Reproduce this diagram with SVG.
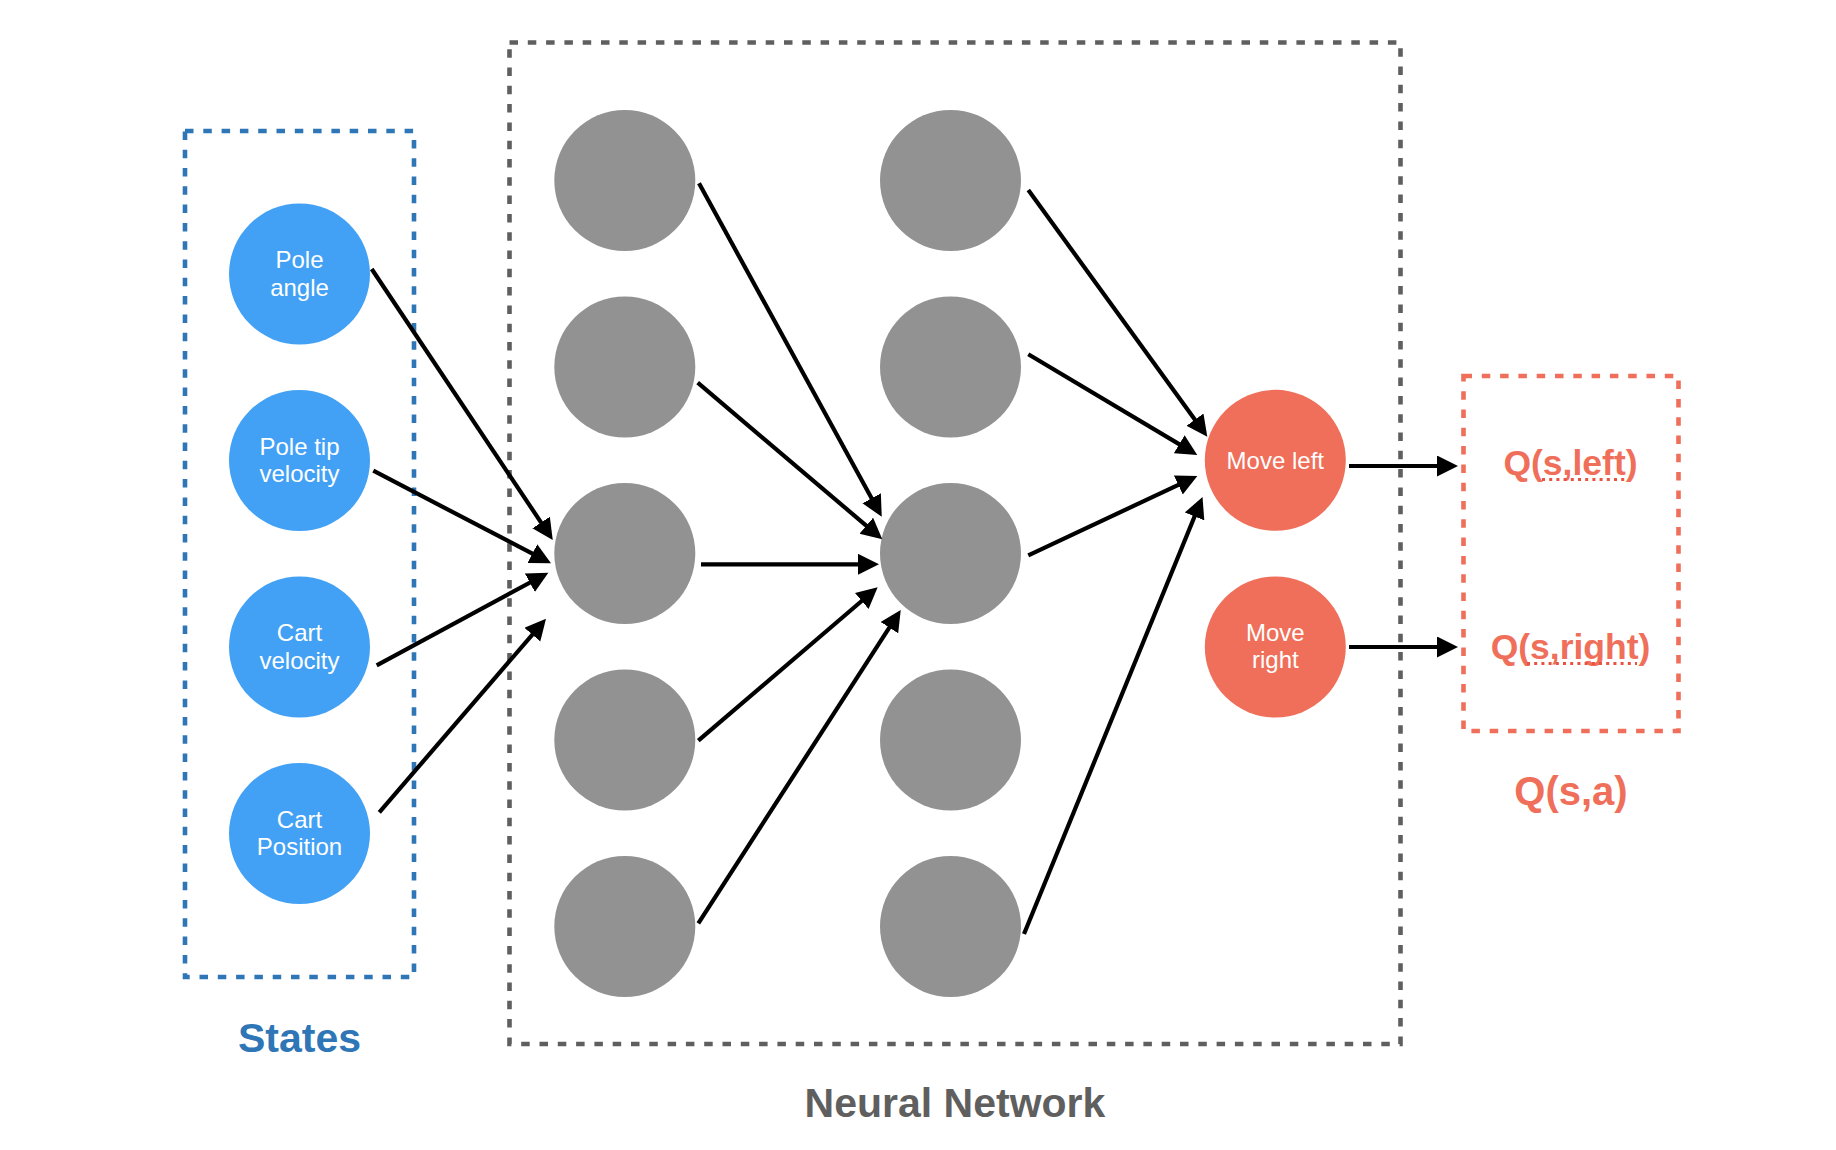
<svg xmlns="http://www.w3.org/2000/svg" width="1836" height="1150" viewBox="0 0 1836 1150">
  <style>
    .frame { fill: none; stroke-width: 4.6; stroke-dasharray: 8.5 9.8; }
    .state { fill: #42a1f5; }
    .hidden { fill: #929292; }
    .action { fill: #ef6f5a; }
    .lbl { font-family: "Liberation Sans", Arial, sans-serif; font-size: 24px; fill: #ffffff; text-anchor: middle; }
    .title { font-family: "Liberation Sans", Arial, sans-serif; font-weight: bold; text-anchor: middle; }
    .link { stroke: #000000; stroke-width: 4.2; fill: none; marker-end: url(#head); }
    .spell { stroke: #e8533f; stroke-width: 3; stroke-dasharray: 3 4.2; fill: none; }
  </style>
  <defs>
    <marker id="head" markerUnits="userSpaceOnUse" markerWidth="22" markerHeight="22" viewBox="0 0 22 22" refX="13" refY="10.5" orient="auto">
      <path d="M0,0 L21,10.5 L0,21 Z" fill="#000000"/>
    </marker>
  </defs>
  <rect width="1836" height="1150" fill="#ffffff"/>

  <!-- group frames -->
  <rect id="states-frame" class="frame" x="185" y="131" width="229" height="846" stroke="#2f76b7"/>
  <rect id="network-frame" class="frame" x="509.5" y="42.5" width="891" height="1001.5" stroke="#5f5f5f"/>
  <rect id="q-frame" class="frame" x="1463.5" y="376" width="215" height="355" stroke="#ef6f5a"/>

  <!-- input states -->
  <g id="pole-angle">
    <circle class="state" cx="299.5" cy="274" r="70.5"/>
    <text class="lbl" x="299.5" y="268.3">Pole</text>
    <text class="lbl" x="299.5" y="295.7">angle</text>
  </g>
  <g id="pole-tip-velocity">
    <circle class="state" cx="299.5" cy="460.5" r="70.5"/>
    <text class="lbl" x="299.5" y="454.8">Pole tip</text>
    <text class="lbl" x="299.5" y="482.2">velocity</text>
  </g>
  <g id="cart-velocity">
    <circle class="state" cx="299.5" cy="647" r="70.5"/>
    <text class="lbl" x="299.5" y="641.3">Cart</text>
    <text class="lbl" x="299.5" y="668.7">velocity</text>
  </g>
  <g id="cart-position">
    <circle class="state" cx="299.5" cy="833.5" r="70.5"/>
    <text class="lbl" x="299.5" y="827.8">Cart</text>
    <text class="lbl" x="299.5" y="855.2">Position</text>
  </g>

  <!-- hidden layer 1 -->
  <g id="h1-1"><circle class="hidden" cx="624.8" cy="180.5" r="70.5"/></g>
  <g id="h1-2"><circle class="hidden" cx="624.8" cy="367" r="70.5"/></g>
  <g id="h1-3"><circle class="hidden" cx="624.8" cy="553.5" r="70.5"/></g>
  <g id="h1-4"><circle class="hidden" cx="624.8" cy="740" r="70.5"/></g>
  <g id="h1-5"><circle class="hidden" cx="624.8" cy="926.5" r="70.5"/></g>

  <!-- hidden layer 2 -->
  <g id="h2-1"><circle class="hidden" cx="950.5" cy="180.5" r="70.5"/></g>
  <g id="h2-2"><circle class="hidden" cx="950.5" cy="367" r="70.5"/></g>
  <g id="h2-3"><circle class="hidden" cx="950.5" cy="553.5" r="70.5"/></g>
  <g id="h2-4"><circle class="hidden" cx="950.5" cy="740" r="70.5"/></g>
  <g id="h2-5"><circle class="hidden" cx="950.5" cy="926.5" r="70.5"/></g>

  <!-- actions -->
  <g id="move-left">
    <circle class="action" cx="1275.3" cy="460.3" r="70.5"/>
    <text class="lbl" x="1275.3" y="469">Move left</text>
  </g>
  <g id="move-right">
    <circle class="action" cx="1275.3" cy="647" r="70.5"/>
    <text class="lbl" x="1275.3" y="641">Move</text>
    <text class="lbl" x="1275.3" y="668.4">right</text>
  </g>

  <!-- Q values -->
  <g id="q-left">
    <text class="title" x="1570.5" y="474.5" font-size="35.5" fill="#ef6f5a">Q(s,left)</text>
    <line class="spell" x1="1542" y1="479.5" x2="1626" y2="479.5"/>
  </g>
  <g id="q-right">
    <text class="title" x="1570.5" y="658.5" font-size="35.5" fill="#ef6f5a">Q(s,right)</text>
    <line class="spell" x1="1527" y1="663.5" x2="1637" y2="663.5"/>
  </g>

  <!-- captions -->
  <text id="states-caption" class="title" x="299.5" y="1051.5" font-size="41" fill="#2f76b7">States</text>
  <text id="network-caption" class="title" x="955" y="1116.5" font-size="41" fill="#5f5f5f">Neural Network</text>
  <text id="qsa-caption" class="title" x="1571" y="805" font-size="40" fill="#ef6f5a">Q(s,a)</text>

  <!-- connectors -->
  <g id="connectors">
    <line class="link" x1="371.7" y1="269" x2="548.3" y2="533.3"/>
    <line class="link" x1="373.3" y1="470.7" x2="543.9" y2="559.6"/>
    <line class="link" x1="376.7" y1="665.3" x2="541.3" y2="576.5"/>
    <line class="link" x1="379.3" y1="812.3" x2="540.8" y2="624.8"/>

    <line class="link" x1="699" y1="183.3" x2="877.9" y2="509.7"/>
    <line class="link" x1="697.7" y1="382.7" x2="876.2" y2="534.1"/>
    <line class="link" x1="701" y1="564.3" x2="871" y2="564.3"/>
    <line class="link" x1="698.3" y1="740.7" x2="871.6" y2="592.5"/>
    <line class="link" x1="698.3" y1="923.3" x2="896.4" y2="616.7"/>

    <line class="link" x1="1028.3" y1="190" x2="1202.6" y2="430.2"/>
    <line class="link" x1="1028.3" y1="354.3" x2="1190.4" y2="450.9"/>
    <line class="link" x1="1028.3" y1="555.3" x2="1190.1" y2="479.4"/>
    <line class="link" x1="1024" y1="934" x2="1199.5" y2="504.4"/>

    <line class="link" x1="1349" y1="466" x2="1450" y2="466"/>
    <line class="link" x1="1349" y1="647" x2="1450" y2="647"/>
  </g>
</svg>
